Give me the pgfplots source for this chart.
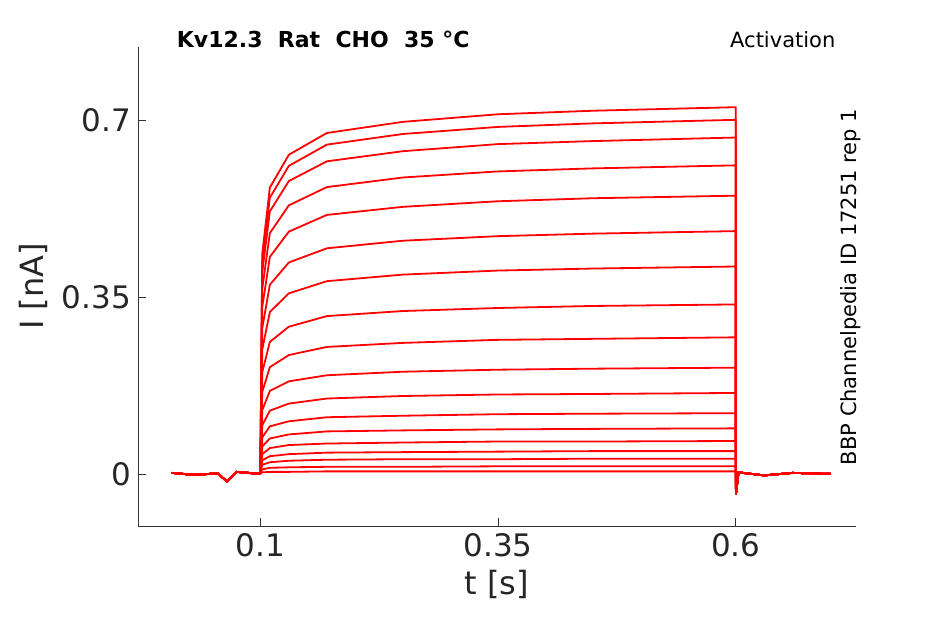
\documentclass[border=0pt]{standalone}
\usepackage{pgfplots}
\pgfplotsset{compat=1.18}
\usepackage{fontspec}
\setmainfont{DejaVu Sans}
\newcommand{\tr}[8]{\addplot[red, line width=0.9pt] coordinates {(0.007,0.002)(0.03,-0.002)(0.055,0.001)(0.065,-0.015)(0.075,0.004)(0.0995,0)(0.1,0.002)(0.102,#1)(0.11,#2)(0.13,#3)(0.17,#4)(0.25,#5)(0.35,#6)(0.45,#7)(0.6,#8)(0.6003,-0.04)(0.603,0.003)(0.63,-0.003)(0.66,0.002)(0.7,0)};}
\begin{document}
\begin{tikzpicture}
\begin{axis}[
  scale only axis, width=359pt, height=239.5pt,
  xmin=-0.0287, xmax=0.7266, ymin=-0.103, ymax=0.844,
  axis x line*=bottom, axis y line*=left,
  axis line style={black!80}, tick style={black!80},
  xtick={0.1,0.35,0.6}, xticklabels={0.1,0.35,0.6},
  ytick={0,0.35,0.7}, yticklabels={0,0.35,0.7},
  tick align=inside, major tick length=4pt,
  ticklabel style={font=\fontsize{15.5}{18}\selectfont, text=black!85},
  label style={font=\fontsize{16}{19}\selectfont, text=black!85},
  xlabel={t [s]}, ylabel={I [nA]},
  /pgf/number format/assume math mode=true,
  clip=false,
]
\tr{0.435}{0.566}{0.631}{0.674}{0.696}{0.711}{0.718}{0.725}
\tr{0.42}{0.546}{0.609}{0.651}{0.672}{0.686}{0.693}{0.70}
\tr{0.399}{0.519}{0.579}{0.618}{0.638}{0.652}{0.658}{0.665}
\tr{0.366}{0.476}{0.531}{0.567}{0.586}{0.598}{0.604}{0.61}
\tr{0.33}{0.429}{0.479}{0.512}{0.528}{0.539}{0.545}{0.55}
\tr{0.288}{0.374}{0.418}{0.446}{0.461}{0.470}{0.475}{0.48}
\tr{0.246}{0.320}{0.357}{0.381}{0.394}{0.402}{0.406}{0.41}
\tr{0.201}{0.261}{0.291}{0.312}{0.322}{0.328}{0.332}{0.335}
\tr{0.162}{0.211}{0.235}{0.251}{0.259}{0.265}{0.267}{0.27}
\tr{0.126}{0.164}{0.183}{0.195}{0.202}{0.206}{0.208}{0.21}
\tr{0.096}{0.125}{0.139}{0.149}{0.154}{0.157}{0.158}{0.16}
\tr{0.072}{0.094}{0.104}{0.112}{0.115}{0.118}{0.119}{0.12}
\tr{0.054}{0.070}{0.078}{0.084}{0.086}{0.088}{0.089}{0.09}
\tr{0.039}{0.051}{0.057}{0.060}{0.062}{0.064}{0.064}{0.065}
\tr{0.027}{0.035}{0.039}{0.042}{0.043}{0.044}{0.045}{0.045}
\tr{0.018}{0.023}{0.026}{0.028}{0.029}{0.029}{0.030}{0.03}
\tr{0.009}{0.012}{0.013}{0.014}{0.014}{0.015}{0.015}{0.015}
\tr{0.003}{0.004}{0.004}{0.005}{0.005}{0.005}{0.005}{0.005}
\node[font=\bfseries\fontsize{11}{13}\selectfont] at (rel axis cs:0.258,1.015) {Kv12.3\ \ Rat\ \ CHO\ \ 35 °C};
\node[font=\fontsize{10.5}{12}\selectfont] at (rel axis cs:0.898,1.015) {Activation};
\node[font=\fontsize{10.5}{12}\selectfont, rotate=90] at (rel axis cs:0.992,0.499) {BBP Channelpedia ID 17251 rep 1};
\end{axis}
\useasboundingbox ([xshift=-69pt,yshift=-49pt]current axis.south west) rectangle ([xshift=44.5pt,yshift=23.5pt]current axis.north east);
\end{tikzpicture}
\end{document}
